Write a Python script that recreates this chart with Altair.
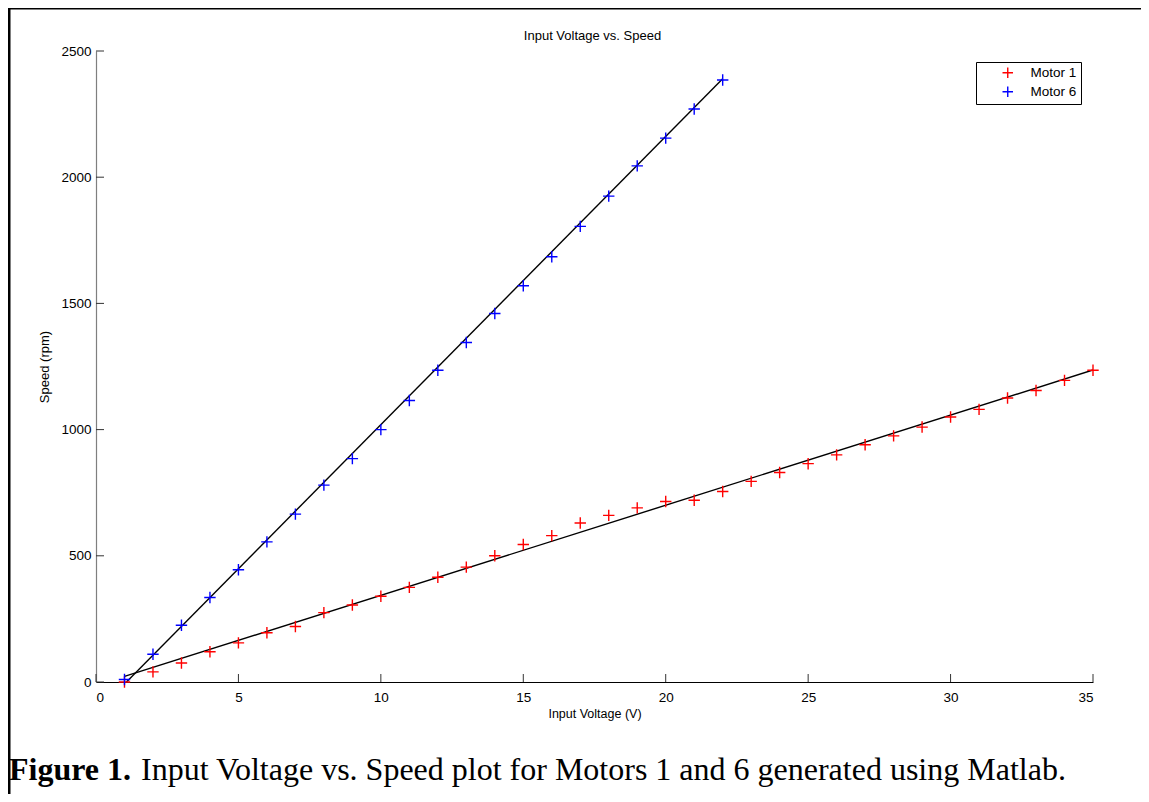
import altair as alt
import pandas as pd

# ---------------- data ----------------
volts_m1 = list(range(1, 36))
speed_m1 = [0, 40, 75, 120, 155, 195, 220, 275, 305, 340, 375, 415, 455, 500, 545,
            580, 630, 660, 690, 715, 720, 755, 795, 830, 865, 900, 940, 975, 1010,
            1050, 1080, 1125, 1155, 1195, 1235]
volts_m6 = list(range(1, 23))
speed_m6 = [10, 110, 225, 335, 445, 555, 665, 780, 885, 1000, 1115, 1235, 1345,
            1460, 1570, 1685, 1805, 1925, 2045, 2155, 2270, 2385]

fit_volts_m1 = [1, 35]
fit_speed_m1 = [22, 1236]
fit_volts_m6 = [1, 22]
fit_speed_m6 = [-8, 2390]

series_names = ["Motor 1", "Motor 6"]
series_colors = ["#ff0000", "#0000ff"]

x_ticks = [0, 5, 10, 15, 20, 25, 30, 35]
y_ticks = [0, 500, 1000, 1500, 2000, 2500]

chart_title = ["Input Voltage vs. Speed"]
x_title = "Input Voltage (V)"
y_title = "Speed (rpm)"
caption_bold = ["Figure 1."]
caption_rest = ["Input Voltage vs. Speed plot for Motors 1 and 6 generated using Matlab."]

# ---------------- tables ----------------
pts = pd.DataFrame({
    "volts": volts_m1 + volts_m6,
    "speed": speed_m1 + speed_m6,
    "series": ["Motor 1"] * len(volts_m1) + ["Motor 6"] * len(volts_m6),
})
fits = pd.DataFrame({
    "volts": fit_volts_m1 + fit_volts_m6,
    "speed": fit_speed_m1 + fit_speed_m6,
    "series": ["Motor 1"] * len(fit_volts_m1) + ["Motor 6"] * len(fit_volts_m6),
})
xt = pd.DataFrame({"volts": x_ticks})
yt = pd.DataFrame({"speed": y_ticks})

W, H = 997, 631
FONT = "Liberation Sans"
PLUS = "M-1,0L1,0M0,-1L0,1"

xscale = alt.Scale(domain=[0, 35], nice=False, zero=False)
yscale = alt.Scale(domain=[0, 2500], nice=False, zero=False)

x_axis = alt.Axis(title=x_title, values=x_ticks, format="d", ticks=False, tickSize=0,
                  grid=False, domainColor="black", domainWidth=1.2,
                  labelPadding=8, labelFontSize=13.5, labelFont=FONT,
                  labelColor="black", titleFont=FONT, titleFontSize=12.5,
                  titleFontWeight="normal", titleColor="black", titlePadding=4)
y_axis = alt.Axis(title=y_title, values=y_ticks, format="d", ticks=False, tickSize=0,
                  grid=False, domainColor="#7f7f7f", domainWidth=1.2,
                  labelPadding=5, labelFontSize=13.5, labelFont=FONT,
                  labelColor="black", titleFont=FONT, titleFontSize=13,
                  titleFontWeight="normal", titleColor="black", titlePadding=9)

X = alt.X("volts:Q", scale=xscale, axis=x_axis)
Y = alt.Y("speed:Q", scale=yscale, axis=y_axis)

fit_layer = alt.Chart(fits).mark_line(color="black", strokeWidth=1.4, clip=True).encode(
    x=X, y=Y, detail="series:N",
)

pt_layer = alt.Chart(pts).mark_point(shape=PLUS, filled=False, size=130,
                                     strokeWidth=1.4, opacity=1).encode(
    x=X, y=Y,
    color=alt.Color("series:N",
                    scale=alt.Scale(domain=series_names, range=series_colors),
                    legend=alt.Legend(title=None, orient="none", legendX=880, legendY=11,
                                      strokeColor="black", fillColor="white",
                                      padding=4, symbolType=PLUS, symbolSize=110,
                                      symbolStrokeWidth=1.4, symbolOffset=21,
                                      labelOffset=16, labelFont=FONT,
                                      labelFontSize=13.5, labelColor="black",
                                      rowPadding=2)),
)

xtick_layer = alt.Chart(xt).mark_rule(color="#333333", strokeWidth=1).encode(
    x=X, y=alt.value(H), y2=alt.value(H - 8),
)
ytick_layer = alt.Chart(yt).mark_rule(color="#333333", strokeWidth=1).encode(
    y=Y, x=alt.value(0), x2=alt.value(8),
)

one = pd.DataFrame({"k": [0]})
frame_left = alt.Chart(one).mark_rule(color="black", strokeWidth=3).encode(
    x=alt.value(-87), y=alt.value(-43), y2=alt.value(800))
frame_top = alt.Chart(one).mark_rule(color="black", strokeWidth=3).encode(
    y=alt.value(-43), x=alt.value(-88), x2=alt.value(1100))

title_layer = alt.Chart(pd.DataFrame({"t": chart_title})).mark_text(
    font=FONT, fontSize=13, align="center", baseline="middle", color="black").encode(
    text="t:N", x=alt.value(W / 2 - 2), y=alt.value(-15))

cap1 = alt.Chart(pd.DataFrame({"t": caption_bold})).mark_text(
    font="Liberation Serif", fontSize=32, fontWeight="bold", align="left",
    baseline="alphabetic", color="black").encode(
    text="t:N", x=alt.value(-87), y=alt.value(729))
cap2 = alt.Chart(pd.DataFrame({"t": caption_rest})).mark_text(
    font="Liberation Serif", fontSize=32, align="left",
    baseline="alphabetic", color="black").encode(
    text="t:N", x=alt.value(45), y=alt.value(729))

chart = alt.layer(
    frame_left, frame_top, xtick_layer, ytick_layer, fit_layer, pt_layer,
    title_layer, cap1, cap2
).properties(
    width=W, height=H,
    autosize=alt.AutoSizeParams(type="none"),
    padding={"left": 88, "top": 43, "right": 48, "bottom": 112},
    background="white",
).configure_view(stroke=None)

chart.save("out.html", embed_options={"renderer": "svg", "actions": False})
